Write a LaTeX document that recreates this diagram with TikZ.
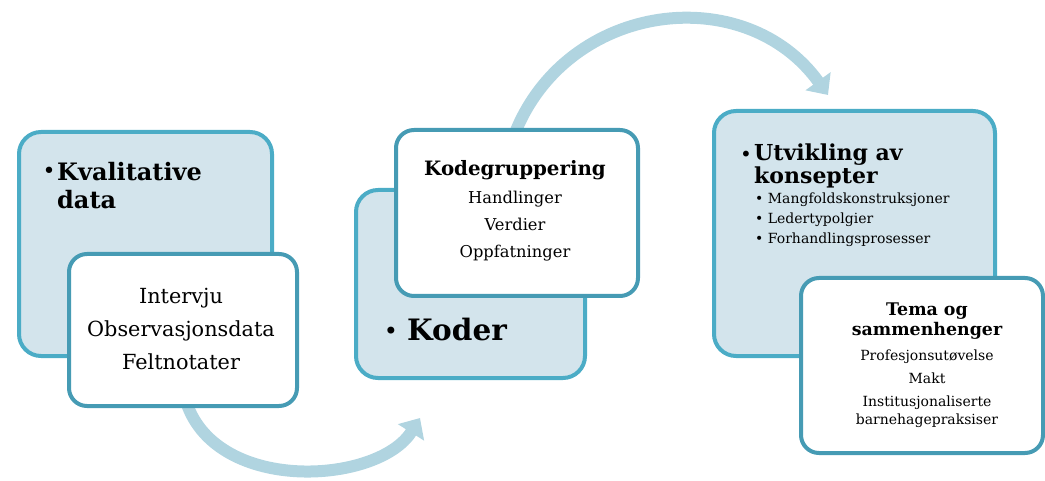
\documentclass[tikz,border=0pt]{standalone}
\usepackage{fontspec}
\setmainfont{DejaVu Serif}
\usetikzlibrary{arrows.meta}

\definecolor{boxfill}{RGB}{211,228,236}
\definecolor{boxline}{RGB}{75,172,198}
\definecolor{cardline}{RGB}{70,155,180}
\definecolor{flowcol}{RGB}{176,212,224}

\tikzset{
  bluebox/.style={draw=boxline, fill=boxfill, line width=4pt, rounded corners=22pt, anchor=north west, inner sep=0pt},
  whitebox/.style={draw=cardline, fill=white, line width=4pt, rounded corners=18pt, anchor=north west, inner sep=0pt},
  flowarrow/.style={draw=flowcol, line width=12pt, -{Triangle[width=30pt,length=17pt]}},
  dot/.style={inner sep=0pt},
}

\begin{document}
\begin{tikzpicture}[x=1pt, y=-1pt]
    \useasboundingbox (0,0) rectangle (1045,481);

    % Flow arrows between the groups
    \coordinate (flowAstart) at (185,398);
    \coordinate (flowAend) at (420,418);
    \draw[flowarrow] (flowAstart) .. controls (212,495) and (378,485) .. (flowAend);
    \coordinate (flowBstart) at (515,133);
    \coordinate (flowBend) at (828,95);
    \draw[flowarrow] (flowBstart) .. controls (568,1) and (745,-20) .. (flowBend);

    % Group 1: qualitative data
    \node[bluebox, minimum width=253, minimum height=224] (kval) at (17,130) {};
    \node[dot] (kvaldot) at (49,173) {\fontsize{22}{22}\selectfont\textbullet};
    \node[anchor=west, align=left, inner sep=0pt, font=\bfseries\fontsize{24}{28}\selectfont] (kvaltitle) at (57,186) {Kvalitative\\data};
    \node[whitebox, minimum width=228, minimum height=152] (kvalcard) at (67,252) {};
    \node[align=center, font=\fontsize{20.8}{33}\selectfont] (kvalitems) at (181,329) {Intervju\\Observasjonsdata\\Feltnotater};

    % Group 2: codes
    \node[bluebox, minimum width=229, minimum height=188] (koder) at (354,188) {};
    \node[dot] (koderdot) at (391,333) {\fontsize{24}{24}\selectfont\textbullet};
    \node[anchor=west, inner sep=0pt, font=\bfseries\fontsize{29.5}{29.5}\selectfont] (kodertitle) at (407,330) {Koder};
    \node[whitebox, minimum width=242, minimum height=166] (kodecard) at (394,128) {};
    \node[font=\bfseries\fontsize{19.8}{19.8}\selectfont] (kodetitle) at (515,170) {Kodegruppering};
    \node[align=center, font=\fontsize{16.3}{27}\selectfont] (kodeitems) at (515,226) {Handlinger\\Verdier\\Oppfatninger};

    % Group 3: concepts
    \node[bluebox, minimum width=281, minimum height=245] (konsept) at (712,109) {};
    \node[dot] (konseptdot) at (746,156) {\fontsize{20}{20}\selectfont\textbullet};
    \node[anchor=west, align=left, inner sep=0pt, font=\bfseries\fontsize{22}{23}\selectfont] (konsepttitle) at (754,166) {Utvikling av\\konsepter};
    \node[anchor=west, align=left, inner sep=0pt, font=\fontsize{14}{20}\selectfont] (konseptitems) at (755,220) {\textbullet\ Mangfoldskonstruksjoner\\\textbullet\ Ledertypolgier\\\textbullet\ Forhandlingsprosesser};
    \node[whitebox, minimum width=242, minimum height=175] (temacard) at (799,276) {};
    \node[align=center, font=\bfseries\fontsize{17.4}{20}\selectfont] (tematitle) at (927,321) {Tema og\\sammenhenger};
    \node[align=center, font=\fontsize{14}{18}\selectfont] (temaitems) at (927,389) {Profesjonsutøvelse\\[5pt]Makt\\[5pt]Institusjonaliserte\\barnehagepraksiser};
\end{tikzpicture}
\end{document}
